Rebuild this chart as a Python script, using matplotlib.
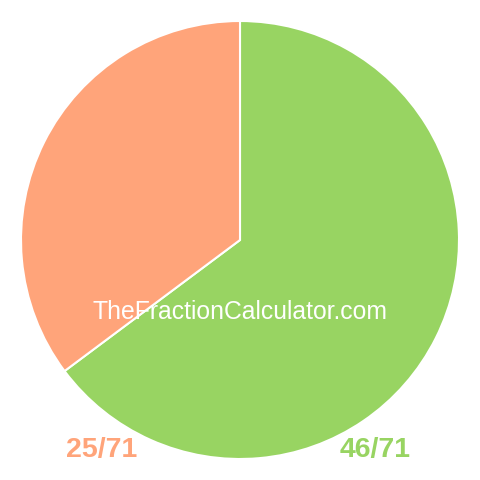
import matplotlib
matplotlib.use("Agg")
import matplotlib.pyplot as plt

labels = ["46/71", "25/71"]
values = [46, 25]
colors = ["#98d462", "#ffa47a"]
watermark = "TheFractionCalculator.com"

fig = plt.figure(figsize=(4.8, 4.8), dpi=100)
ax = fig.add_axes([0, 0, 1, 1])
ax.set_xlim(0, 480)
ax.set_ylim(0, 480)
ax.set_aspect("equal")
ax.axis("off")

ax.pie(values, colors=colors, startangle=90, counterclock=False,
       center=(240, 240), radius=219, frame=True,
       wedgeprops=dict(edgecolor="white", linewidth=1.5))
ax.set_xlim(0, 480)
ax.set_ylim(0, 480)
ax.axis("off")

ax.text(240, 168, watermark, color="white", fontsize=17.8,
        family="Liberation Sans", ha="center", va="center")

ax.text(102, 30, labels[1], color=colors[1], fontsize=20.5, fontweight="bold",
        family="Liberation Sans", ha="center", va="center")
ax.text(375, 30, labels[0], color=colors[0], fontsize=20.5, fontweight="bold",
        family="Liberation Sans", ha="center", va="center")

fig.savefig("out.png", dpi=100)
